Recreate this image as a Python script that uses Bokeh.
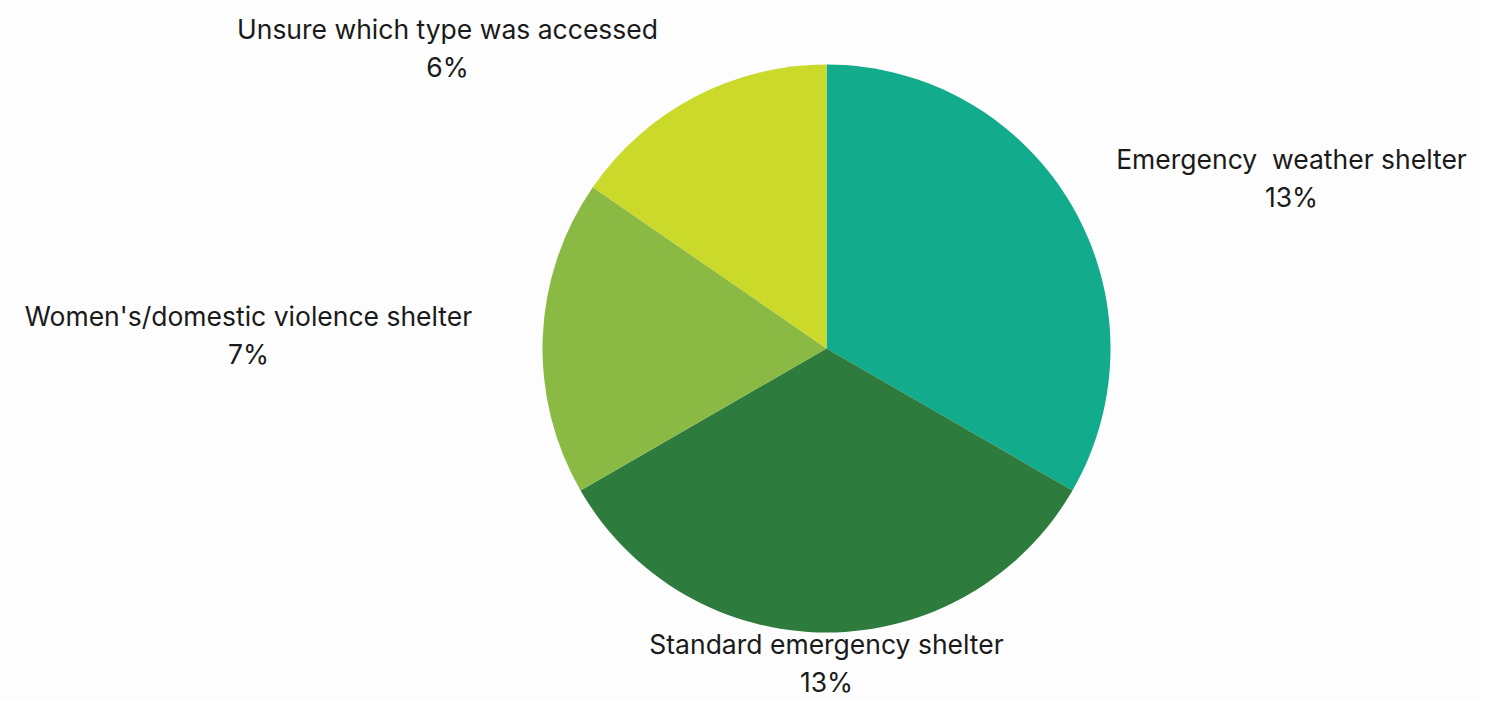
import math
from bokeh.plotting import figure
from bokeh.models import Range1d, ColumnDataSource
from bokeh.core.properties import value
from bokeh.embed import file_html
from bokeh.resources import INLINE

# ---- data ----
categories = ["Emergency \u00a0weather shelter", "Standard emergency shelter",
              "Women's/domestic violence shelter", "Unsure which type was accessed"]
percents = [13, 13, 7, 6]
colors = ["#12AB8B", "#2E7B3E", "#8ABA43", "#CBD92A"]

# ---- layout ----
W, H = 1481, 701
CX, CY = 826, 353
R = 284
LABEL_OFFSET = [(465, 171), (0, -314), (-578, 14), (-379, 301)]  # block centre offsets (px)
LINE_GAP = 38
FONT = "Inter"
FSIZE = "26.5px"

total = sum(percents)
starts, ends = [], []
a = math.pi / 2
for v in percents:
    starts.append(a)
    a -= v / total * 2 * math.pi
    ends.append(a)

p = figure(width=W, height=H, x_range=Range1d(0, W), y_range=Range1d(0, H),
           output_backend="svg", toolbar_location=None, min_border=0)
p.axis.visible = False
p.grid.visible = False
p.outline_line_color = None
p.background_fill_color = "#FDFDFD"
p.border_fill_color = "#FDFDFD"

src = ColumnDataSource(dict(start=starts, end=ends, color=colors))
p.wedge(x=CX, y=CY, radius=R, radius_units="screen", start_angle="start", end_angle="end",
        direction="clock", fill_color="color", line_color=None, source=src)

name_x = [CX + dx for dx, dy in LABEL_OFFSET]
name_y = [CY + dy + LINE_GAP / 2 for dx, dy in LABEL_OFFSET]
pct_y = [CY + dy - LINE_GAP / 2 for dx, dy in LABEL_OFFSET]
lab = ColumnDataSource(dict(x=name_x, ny=name_y, py=pct_y, name=categories,
                            pct=[f"{v}%" for v in percents]))
for ycol, tcol in (("ny", "name"), ("py", "pct")):
    p.text(x="x", y=ycol, text=tcol, source=lab, text_align="center", text_baseline="middle",
           text_font=value(FONT), text_font_size=FSIZE, text_color="#1A1A1A")

open("out.html", "w").write(file_html(p, INLINE))
